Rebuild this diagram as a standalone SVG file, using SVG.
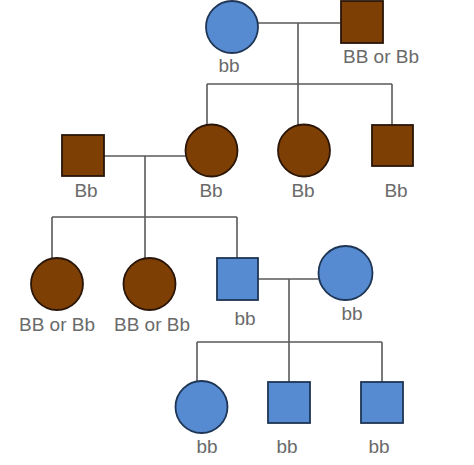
<svg xmlns="http://www.w3.org/2000/svg" width="474" height="465" viewBox="0 0 474 465">
<style>
.ln{stroke:#5a5a5a;stroke-width:1.6;fill:none}
.b{fill:#568bd2;stroke:#1e3555;stroke-width:1.8}
.r{fill:#7e3f05;stroke:#2a1608;stroke-width:1.8}
text{font-family:"Liberation Sans",Arial,sans-serif;font-size:19px;fill:#6a6a6a;text-anchor:middle}
</style>
<rect width="474" height="465" fill="#fff"/>
<g id="connectors">
<path class="ln" d="M258 23H340M298 23V84M207 84H392M207 84V125M298 84V125M392 84V125"/>
<path class="ln" d="M104 156H185M145 156V217M52 217H237M52 217V258M145 217V258M237 217V258"/>
<path class="ln" d="M258 279H318M289 279V342M197 342H382M197 342V382M289 342V382M382 342V382"/>
</g>
<g id="g1-mother"><circle class="b" cx="232" cy="27" r="26"/><text x="229" y="72">bb</text></g>
<g id="g1-father"><rect class="r" x="341" y="1" width="42" height="42"/><text x="381" y="63">BB or Bb</text></g>
<g id="g2-husband"><rect class="r" x="62" y="135" width="42" height="41"/><text x="86" y="197">Bb</text></g>
<g id="g2-daughter1"><circle class="r" cx="211.5" cy="150.5" r="26"/><text x="211" y="197">Bb</text></g>
<g id="g2-daughter2"><circle class="r" cx="304" cy="150.5" r="26"/><text x="303" y="197">Bb</text></g>
<g id="g2-son"><rect class="r" x="372" y="125" width="41" height="41"/><text x="396" y="197">Bb</text></g>
<g id="g3-daughter1"><circle class="r" cx="57" cy="284" r="26"/><text x="57" y="331">BB or Bb</text></g>
<g id="g3-daughter2"><circle class="r" cx="149.5" cy="284" r="26"/><text x="152" y="331">BB or Bb</text></g>
<g id="g3-son"><rect class="b" x="217" y="258" width="41" height="42"/><text x="245" y="325">bb</text></g>
<g id="g3-wife"><circle class="b" cx="345.5" cy="273" r="27"/><text x="352" y="320">bb</text></g>
<g id="g4-daughter"><circle class="b" cx="201.5" cy="407" r="26"/><text x="207" y="453">bb</text></g>
<g id="g4-son1"><rect class="b" x="268" y="382" width="42" height="41"/><text x="287" y="453">bb</text></g>
<g id="g4-son2"><rect class="b" x="361" y="382" width="42" height="41"/><text x="379" y="453">bb</text></g>
</svg>
